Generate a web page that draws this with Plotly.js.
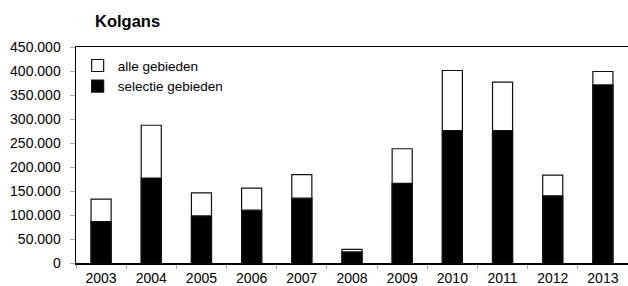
<!DOCTYPE html>
<html>
<head>
<meta charset="utf-8">
<script src="https://cdn.plot.ly/plotly-3.0.1.min.js"></script>
<style>html,body{margin:0;padding:0;background:#fff;}#chart{width:628px;height:286px;}</style>
</head>
<body>
<div id="chart"></div>
<script>
const years = ["2003","2004","2005","2006","2007","2008","2009","2010","2011","2012","2013"];
const alleGebieden = [133000, 287000, 146000, 156000, 184000, 28500, 238000, 401000, 377000, 183000, 399000];
const selectieGebieden = [86000, 177000, 98000, 110000, 135000, 23000, 166000, 276000, 276000, 140000, 371000];
const yTicks = [0, 50000, 100000, 150000, 200000, 250000, 300000, 350000, 400000, 450000];

const fam = "Liberation Sans, Arial, sans-serif";
const tickFont = {family: fam, size: 14, color: "#000"};
const legendFont = {family: fam, size: 13.5, color: "#000"};

const traces = [
  {type: "bar", name: "alle gebieden", x: years, y: alleGebieden,
   marker: {color: "#ffffff", line: {color: "#111", width: 1.2}}},
  {type: "bar", name: "selectie gebieden", x: years, y: selectieGebieden,
   marker: {color: "#000000", line: {color: "#111", width: 1.2}}}
];

const layout = {
  width: 628, height: 286,
  margin: {l: 76, r: 0, t: 47, b: 23, pad: 0},
  paper_bgcolor: "#fff", plot_bgcolor: "#fff",
  font: tickFont,
  separators: ",.",
  barmode: "overlay",
  bargap: 0.6,
  showlegend: true,
  legend: {x: 0.003, y: 0.985, xanchor: "left", yanchor: "top", bgcolor: "rgba(0,0,0,0)",
           font: legendFont, traceorder: "normal", tracegroupgap: 0},
  title: {text: "<b>Kolgans</b>", font: {family: fam, size: 16.5, color: "#000"},
          xref: "container", yref: "container", x: 95/628, xanchor: "left", y: 1 - 21.5/286, yanchor: "middle"},
  xaxis: {type: "category", showline: true, linecolor: "#000", linewidth: 1.5, mirror: true,
          ticks: "outside", tickson: "boundaries", ticklen: 4, tickcolor: "#aaa",
          showgrid: false, zeroline: false, tickfont: tickFont, ticklabelstandoff: 2, fixedrange: true},
  yaxis: {range: [0, 450000], tickvals: yTicks, tickformat: ",d", showline: true, linecolor: "#000", linewidth: 1.5,
          ticks: "outside", ticklen: 5, tickcolor: "#aaa", showgrid: false, zeroline: false,
          tickfont: tickFont, ticklabelstandoff: 6, fixedrange: true}
};

Plotly.newPlot("chart", traces, layout, {displayModeBar: false, staticPlot: true});
</script>
</body>
</html>
